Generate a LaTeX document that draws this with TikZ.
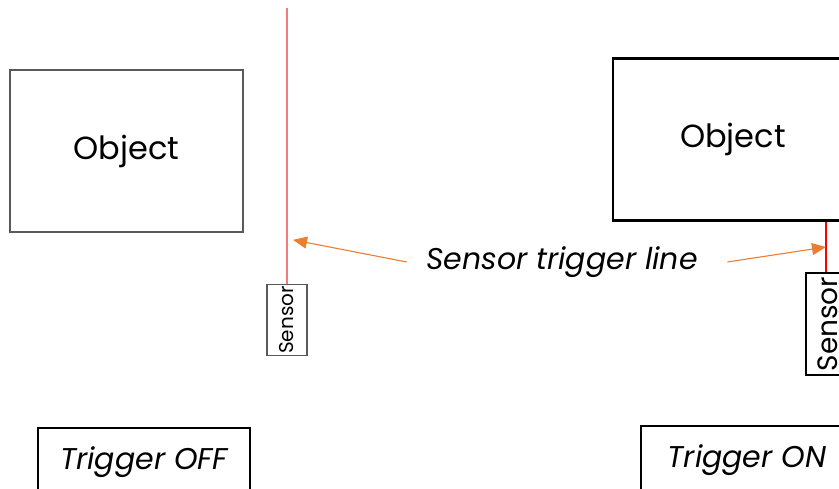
\documentclass[tikz,border=0pt]{standalone}
\usepackage{fontspec}
\setmainfont{Poppins}
\usetikzlibrary{arrows.meta,positioning,calc}
\definecolor{LineOrange}{HTML}{ED7D31}
\definecolor{SoftRed}{HTML}{F47A7C}
\definecolor{FrameGray}{HTML}{595959}

\tikzset{
  objbox/.style={draw,minimum width=233,minimum height=162,inner sep=0pt,
                 font=\fontsize{32}{36}\selectfont},
  sensbox/.style={draw,minimum width=40,minimum height=71,inner sep=0pt,
                  font=\fontsize{20}{24}\selectfont},
  statebox/.style={draw=black,line width=1.6pt,minimum height=68,inner sep=0pt,
                   font=\fontsize{30}{34}\selectfont\itshape},
  pointer/.style={->,LineOrange,line width=1.1pt,
                  >={Triangle[length=14pt,width=12pt]}}
}

\begin{document}
\begin{tikzpicture}[x=1pt,y=-1pt]
  \clip (0,0) rectangle (839,489);

  % Lado izquierdo: el objeto aun no corta la linea
  \node[objbox,draw=FrameGray,line width=1.2pt] (objL) at (126.5,151) {Object};
  \node[sensbox,draw=FrameGray,line width=1.2pt] (sensL) at (287,320)
       {\rotatebox{90}{Sensor}};
  \coordinate (topL) at (287,8);
  \draw[SoftRed,line width=1.4pt] (sensL.north) -- (topL);

  % Lado derecho: el objeto tapa la linea
  \node[objbox,minimum width=240,line width=2.2pt] (objR) at (733,139.5) {Object};
  \node[sensbox,minimum width=44,minimum height=102,line width=2pt,
        font=\fontsize{28}{32}\selectfont] (sensR) at (828,324)
       {\rotatebox{90}{Sensor}};
  \coordinate (baseR) at ($(sensR.north west)+(21,0)$);
  \draw[red,line width=2.2pt] (baseR) -- (baseR |- objR.south);

  \node[font=\fontsize{30}{34}\selectfont\itshape] (trig) at (562,262)
       {Sensor trigger line};
  \coordinate (hitL) at ($(sensL.north)+(6,-44)$);
  \coordinate (hitR) at ($(baseR)+(0,-25)$);
  \draw[pointer] ($(trig.west)+(-16,0)$) -- (hitL);
  \draw[pointer] ($(trig.east)+(26,0)$) -- (hitR);

  \node[statebox,minimum width=212] (off) at (144,462) {Trigger OFF};
  \node[statebox,minimum width=212] (on) at (747,460) {Trigger ON};
\end{tikzpicture}
\end{document}
